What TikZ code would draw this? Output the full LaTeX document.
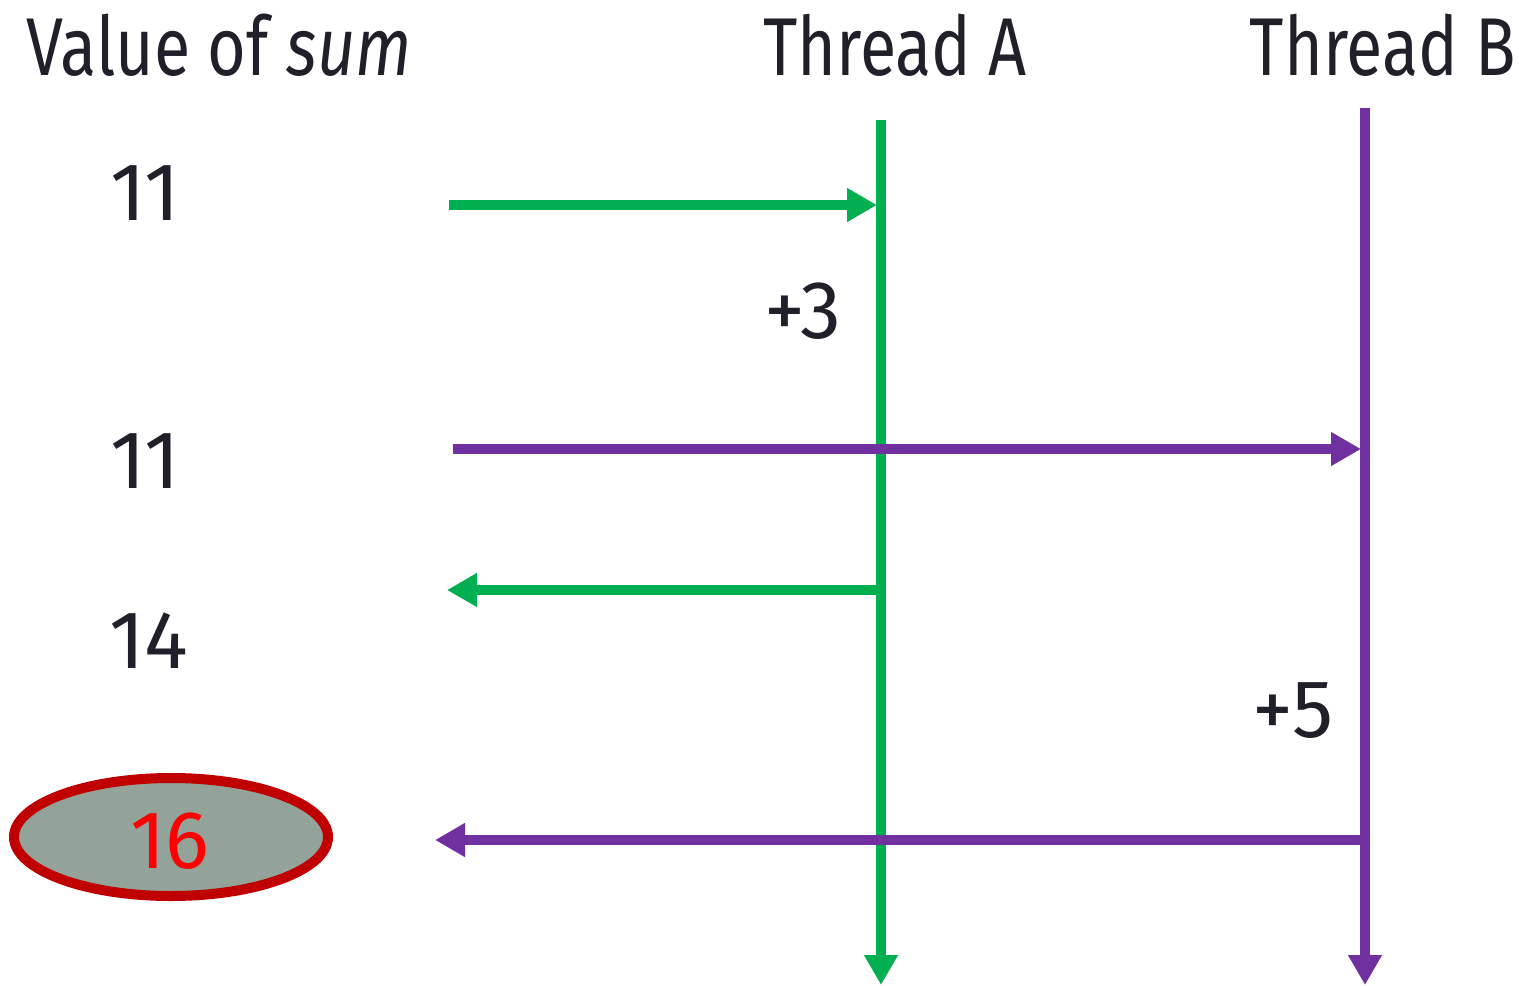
\documentclass[tikz,border=0pt]{standalone}
\usepackage{fontspec}
\setmainfont{Fira Sans}
\usetikzlibrary{arrows.meta,shapes.geometric}
\definecolor{tgreen}{HTML}{00B050}
\definecolor{tpurple}{HTML}{7030A0}
\definecolor{ttext}{HTML}{20202A}
\definecolor{efill}{HTML}{93A39A}
\definecolor{eborder}{HTML}{C00000}
\newcommand{\squeeze}[1]{\scalebox{0.81}[1]{#1}}
\tikzset{
  lbl/.style={text=ttext, font=\fontsize{41}{48}\selectfont, inner sep=0pt, anchor=base},
  gline/.style={draw=tgreen, line width=5pt},
  pline/.style={draw=tpurple, line width=5pt},
  tip/.style={-{Triangle[length=15pt,width=16pt]}},
}
\begin{document}
\begin{tikzpicture}[x=0.5pt,y=-0.5pt]
\useasboundingbox (0,0) rectangle (1519,985);
% headers
\node[lbl] (hsum) at (219,75) {\squeeze{Value of \textit{sum}}};
\node[lbl] (hA) at (895,75) {\squeeze{Thread A}};
\node[lbl] (hB) at (1383,75) {\squeeze{Thread B}};
% values
\node[lbl] (v1) at (145,220) {11};
\node[lbl] (v2) at (145,488) {11};
\node[lbl] (v3) at (149,668) {14};
\node[lbl] (p3) at (803,338) {+3};
\node[lbl] (p5) at (1293,737) {+5};
% result ellipse
\node[ellipse, draw=eborder, line width=5pt, fill=efill, minimum width=157pt, minimum height=59pt, inner sep=0pt] (res) at (171,837) {};
\node[text=red, font=\fontsize{41}{48}\selectfont, inner sep=0pt, anchor=base] (r16) at (170,868) {16};
% thread lines
\coordinate (Atop) at (881,120);
\coordinate (Abot) at (881,985);
\coordinate (Btop) at (1365,108);
\coordinate (Bbot) at (1365,985);
\draw[gline, tip] (Atop) -- (Abot);
\draw[pline, tip] (Btop) -- (Bbot);
% reads / writes
\coordinate (g1s) at (449,205);
\coordinate (g1e) at (877,205);
\draw[gline, tip] (g1s) -- (g1e);
\coordinate (p1s) at (453,449);
\coordinate (p1e) at (1361,449);
\draw[pline, tip] (p1s) -- (p1e);
\coordinate (g2s) at (883,590);
\coordinate (g2e) at (447,590);
\draw[gline, tip] (g2s) -- (g2e);
\coordinate (p2s) at (1367,840);
\coordinate (p2e) at (435,840);
\draw[pline, tip] (p2s) -- (p2e);
\end{tikzpicture}
\end{document}
